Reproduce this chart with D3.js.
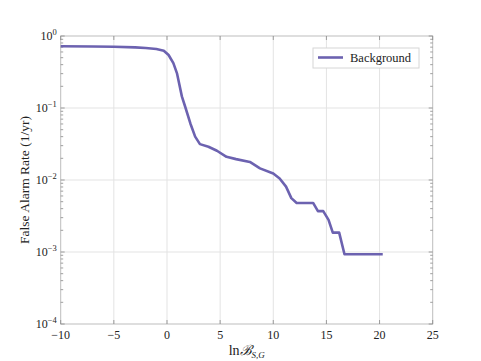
<!DOCTYPE html>
<html><head><meta charset="utf-8">
<script src="https://cdn.jsdelivr.net/npm/d3@7"></script>
<style>body{margin:0;background:#fff}svg{display:block}text{font-family:"Liberation Serif","DejaVu Serif",serif;fill:#222}</style>
</head><body>
<script>
const lnB = [-10,-7,-5,-3,-2,-1,-0.3,0.15,0.6,0.95,1.4,1.75,2.2,2.65,3.1,3.9,4.7,5.6,6.5,7.8,8.75,10.0,10.6,11.2,11.7,12.2,13.75,14.2,14.7,15.2,15.6,16.2,16.7,20.3];
const far = [0.72,0.715,0.71,0.695,0.68,0.66,0.625,0.545,0.42,0.30,0.145,0.1,0.061,0.040,0.0315,0.029,0.0255,0.021,0.0195,0.0178,0.0145,0.0123,0.0105,0.0081,0.0056,0.0048,0.0048,0.0037,0.0037,0.0028,0.00186,0.00186,0.00093,0.00093];
const xTicks = [-10,-5,0,5,10,15,20,25];
const yExps = [0,-1,-2,-3,-4];
const seriesName = "Background";

const W=481,H=361, L=60.7,R=432.7,T=36,B=324;
const svg=d3.select("body").append("svg").attr("width",W).attr("height",H);
const x=d3.scaleLinear().domain([-10,25]).range([L,R]);
const y=d3.scaleLog().domain([1e-4,1]).range([B,T]);
const grid="#e3e3e3", frame="#bdbdbd";

// grid
svg.append("g").selectAll("line").data(xTicks.slice(1,-1)).join("line")
 .attr("x1",d=>x(d)).attr("x2",d=>x(d)).attr("y1",T).attr("y2",B).attr("stroke",grid).attr("stroke-width",1);
svg.append("g").selectAll("line").data(yExps.slice(1,-1)).join("line")
 .attr("x1",L).attr("x2",R).attr("y1",d=>y(Math.pow(10,d))).attr("y2",d=>y(Math.pow(10,d))).attr("stroke",grid).attr("stroke-width",1);

// frame
svg.append("rect").attr("x",L).attr("y",T).attr("width",R-L).attr("height",B-T).attr("fill","none").attr("stroke",frame).attr("stroke-width",1);

// ticks
const tk=svg.append("g").attr("stroke","#888").attr("stroke-width",0.8);
xTicks.forEach(d=>{
  tk.append("line").attr("x1",x(d)).attr("x2",x(d)).attr("y1",B).attr("y2",B-4);
  tk.append("line").attr("x1",x(d)).attr("x2",x(d)).attr("y1",T).attr("y2",T+4);
});
yExps.forEach(e=>{
  const v=Math.pow(10,e);
  tk.append("line").attr("x1",L).attr("x2",L+4).attr("y1",y(v)).attr("y2",y(v));
  tk.append("line").attr("x1",R).attr("x2",R-4).attr("y1",y(v)).attr("y2",y(v));
  if(e>-4){for(let m=2;m<=9;m++){const mv=v/10*m;
    tk.append("line").attr("x1",L).attr("x2",L+2.5).attr("y1",y(mv)).attr("y2",y(mv));
    tk.append("line").attr("x1",R).attr("x2",R-2.5).attr("y1",y(mv)).attr("y2",y(mv));}}
});

// tick labels
svg.append("g").selectAll("text").data(xTicks).join("text")
 .attr("x",d=>x(d)).attr("y",B+15).attr("text-anchor","middle").attr("font-size",12)
 .text(d=>d<0?"\u2212"+Math.abs(d):d);
const yl=svg.append("g");
yExps.forEach(e=>{
  const t=yl.append("text").attr("x",L-4).attr("y",y(Math.pow(10,e))+4).attr("text-anchor","end").attr("font-size",12);
  t.append("tspan").text("10");
  t.append("tspan").attr("dy",-5).attr("font-size",8.5).text(e===0?"0":"\u2212"+Math.abs(e));
});

// axis labels
svg.append("text").attr("transform",`translate(29,${(T+B)/2}) rotate(-90)`).attr("text-anchor","middle").attr("font-size",13.5).text("False Alarm Rate (1/yr)");
const xl=svg.append("text").attr("x",(L+R)/2).attr("y",355).attr("text-anchor","middle").attr("font-size",14);
xl.append("tspan").text("ln");
xl.append("tspan").attr("font-style","italic").text("\u212C");
xl.append("tspan").attr("dy",3).attr("font-size",9).attr("font-style","italic").text("S,G");

// line
svg.append("path").datum(lnB.map((v,i)=>[v,far[i]]))
 .attr("d",d3.line().x(d=>x(d[0])).y(d=>y(d[1])))
 .attr("fill","none").attr("stroke","#6c62b0").attr("stroke-width",2.6).attr("stroke-linejoin","round");

// legend
svg.append("rect").attr("x",313).attr("y",48).attr("width",106).attr("height",20).attr("fill","#fff").attr("stroke","#d6d6d6").attr("stroke-width",1);
svg.append("line").attr("x1",318).attr("x2",343).attr("y1",57.5).attr("y2",57.5).attr("stroke","#6c62b0").attr("stroke-width",2.6);
svg.append("text").attr("x",350).attr("y",61.5).attr("font-size",12.5).text(seriesName);
</script>
</body></html>
